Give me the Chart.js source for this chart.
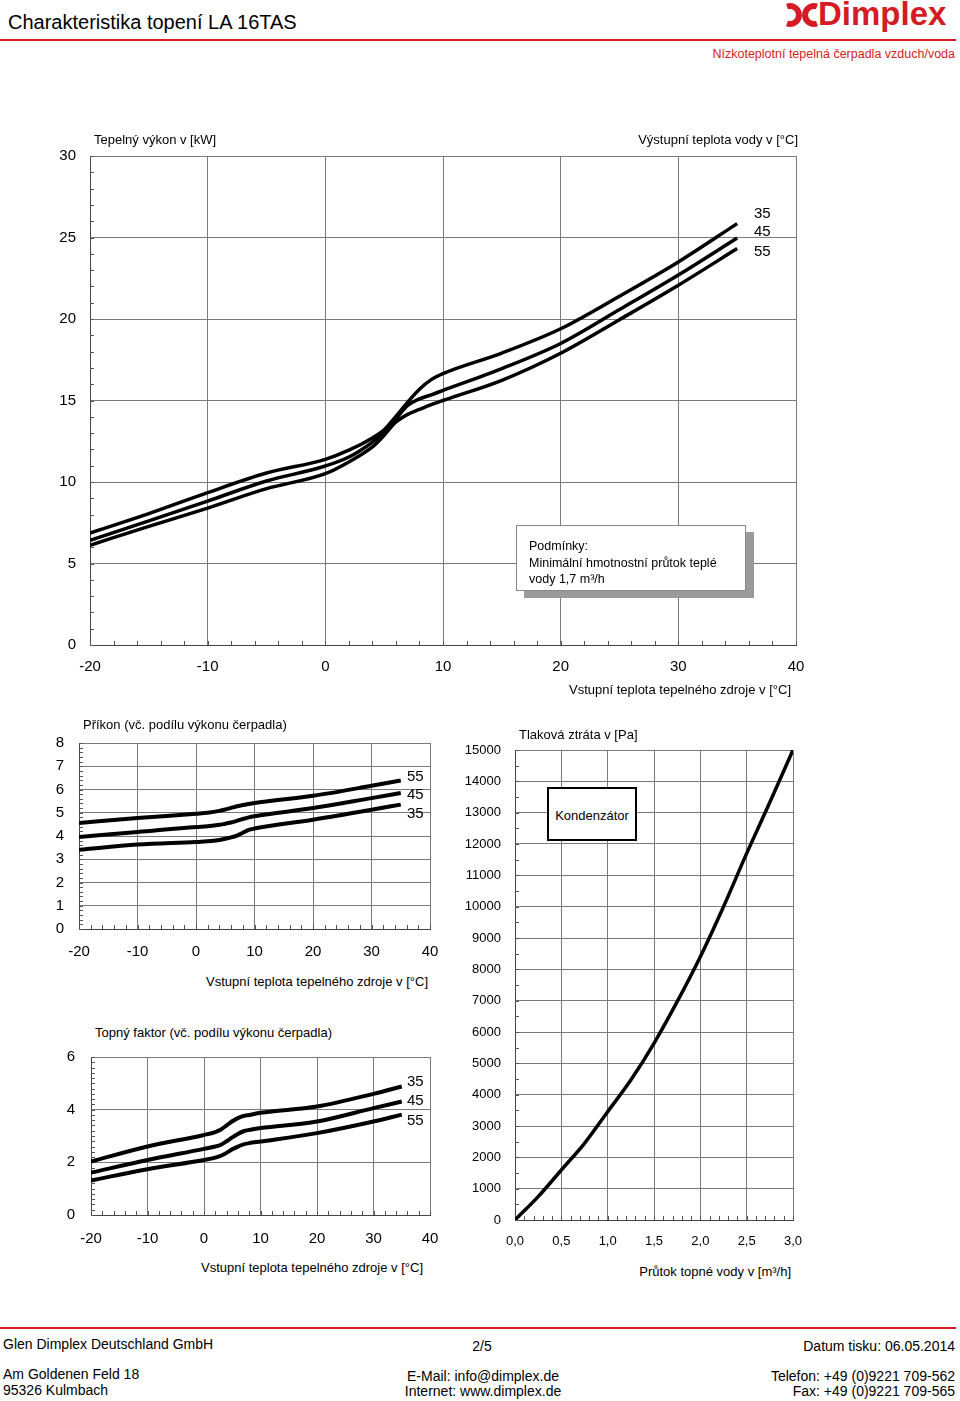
<!DOCTYPE html>
<html lang="cs">
<head>
<meta charset="UTF-8">
<title>Charakteristika topení LA 16TAS</title>
<style>
  body { margin: 0; background: #fff; font-family: "Liberation Sans", Arial, sans-serif; color: #000; }
  #page { position: relative; width: 960px; height: 1401px; overflow: hidden; background: #fff; }
  .t { position: absolute; white-space: nowrap; line-height: 1; }
  .f13 { font-size: 13px; }
  .f15 { font-size: 15px; }
  .f14 { font-size: 14px; }
  canvas { position: absolute; }
  .red { color: #d51b23; }
</style>
</head>
<body>
<div id="page">
  <!-- header -->
  <div class="t" style="left:8px; top:12px; font-size:20px;">Charakteristika topení LA 16TAS</div>
  <svg style="position:absolute; left:784px; top:2px;" width="36" height="26" viewBox="0 0 36 26">
    <path d="M3 4.5 A9 9 0 1 1 3 21.5" fill="none" stroke="#d51b23" stroke-width="6"/>
    <path d="M33 4.5 A9 9 0 1 0 33 21.5" fill="none" stroke="#d51b23" stroke-width="6"/>
  </svg>
  <div class="t red" style="left:818px; top:-3px; font-size:33px; font-weight:bold;">Dimplex</div>
  <div style="position:absolute; left:0; top:39px; width:956px; height:2px; background:#d51b23;"></div>
  <div class="t red" style="right:5px; top:48px; font-size:12.5px;">Nízkoteplotní tepelná čerpadla vzduch/voda</div>

  <!-- main chart texts -->
  <canvas id="heatChart"></canvas>
  <div class="t f13" style="left:94px; top:133px;">Tepelný výkon v [kW]</div>
  <div class="t f13" style="right:162px; top:133px;">Výstupní teplota vody v [°C]</div>
  <div class="t f15" style="left:754px; top:205px;">35</div>
  <div class="t f15" style="left:754px; top:223px;">45</div>
  <div class="t f15" style="left:754px; top:243px;">55</div>
  <div class="t f13" style="right:169px; top:683px;">Vstupní teplota tepelného zdroje v [°C]</div>
  <div style="position:absolute; left:516px; top:525px; width:228px; height:64px; background:#fff; border:1px solid #888; box-shadow:8px 7px 0 #9a9a9a;">
    <div class="t" style="left:12px; top:12px; font-size:12.5px; line-height:16.5px;">Podmínky:<br>Minimální hmotnostní průtok teplé<br>vody 1,7 m³/h</div>
  </div>

  <!-- power chart texts -->
  <canvas id="powerChart"></canvas>
  <div class="t f13" style="left:83px; top:718px;">Příkon (vč. podílu výkonu čerpadla)</div>
  <div class="t f15" style="left:407px; top:768px;">55</div>
  <div class="t f15" style="left:407px; top:786px;">45</div>
  <div class="t f15" style="left:407px; top:805px;">35</div>
  <div class="t f13" style="right:532px; top:975px;">Vstupní teplota tepelného zdroje v [°C]</div>

  <!-- COP chart texts -->
  <canvas id="copChart"></canvas>
  <div class="t f13" style="left:95px; top:1026px;">Topný faktor (vč. podílu výkonu čerpadla)</div>
  <div class="t f15" style="left:407px; top:1073px;">35</div>
  <div class="t f15" style="left:407px; top:1092px;">45</div>
  <div class="t f15" style="left:407px; top:1112px;">55</div>
  <div class="t f13" style="right:537px; top:1261px;">Vstupní teplota tepelného zdroje v [°C]</div>

  <!-- pressure chart texts -->
  <canvas id="pressureChart"></canvas>
  <div class="t f13" style="left:519px; top:728px;">Tlaková ztráta v [Pa]</div>
  <div style="position:absolute; left:547px; top:787px; width:86px; height:50px; background:#fff; border:2px solid #000;">
    <div class="t f13" style="left:0; width:86px; text-align:center; top:20px;">Kondenzátor</div>
  </div>
  <div class="t f13" style="right:169px; top:1265px;">Průtok topné vody v [m³/h]</div>

  <!-- footer -->
  <div style="position:absolute; left:0; top:1327px; width:956px; height:2px; background:#d51b23;"></div>
  <div class="t f14" style="left:3px; top:1337px;">Glen Dimplex Deutschland GmbH</div>
  <div class="t f14" style="left:432px; width:100px; text-align:center; top:1339px;">2/5</div>
  <div class="t f14" style="right:5px; top:1339px;">Datum tisku: 06.05.2014</div>
  <div class="t f14" style="left:3px; top:1367px;">Am Goldenen Feld 18</div>
  <div class="t f14" style="left:3px; top:1383px;">95326 Kulmbach</div>
  <div class="t f14" style="left:383px; width:200px; text-align:center; top:1369px;">E-Mail: info@dimplex.de</div>
  <div class="t f14" style="left:383px; width:200px; text-align:center; top:1384px;">Internet: www.dimplex.de</div>
  <div class="t f14" style="right:5px; top:1369px;">Telefon: +49 (0)9221 709-562</div>
  <div class="t f14" style="right:5px; top:1384px;">Fax: +49 (0)9221 709-565</div>
</div>

<script src="https://cdn.jsdelivr.net/npm/chart.js"></script>
<script>
// --- data read from the sheet ---
// heating output [kW] vs. source temperature [°C]
const heatX  = [-20, -15, -10, -5, 0, 2, 4, 5, 6, 7, 8, 9, 10, 15, 20, 25, 30, 35];
const heat35 = [6.87, 8.06, 9.35, 10.55, 11.39, 11.95, 12.7, 13.2, 14.03, 14.9, 15.69, 16.28, 16.65, 17.91, 19.4, 21.4, 23.5, 25.85];
const heat45 = [6.42, 7.61, 8.83, 10.06, 10.98, 11.53, 12.45, 13.07, 13.89, 14.7, 15.1, 15.35, 15.62, 16.96, 18.5, 20.58, 22.7, 24.97];
const heat55 = [6.12, 7.28, 8.4, 9.59, 10.51, 11.23, 12.15, 12.87, 13.68, 14.15, 14.45, 14.74, 15.0, 16.24, 17.9, 19.96, 22.07, 24.32];

// power input [kW]
const powX  = [-20, -10, 0, 2, 4, 5, 6, 7, 8, 9, 10, 20, 30, 35];
const pow55 = [4.56, 4.77, 4.96, 5.0, 5.08, 5.14, 5.21, 5.28, 5.33, 5.38, 5.42, 5.73, 6.16, 6.39];
const pow45 = [3.96, 4.17, 4.39, 4.42, 4.48, 4.53, 4.58, 4.65, 4.73, 4.8, 4.85, 5.2, 5.63, 5.85];
const pow35 = [3.41, 3.63, 3.74, 3.77, 3.83, 3.88, 3.94, 4.02, 4.14, 4.26, 4.32, 4.7, 5.13, 5.35];

// COP
const copX  = [-20, -10, 0, 2, 3, 4, 5, 6, 7, 8, 10, 20, 30, 35];
const cop35 = [2.03, 2.6, 3.04, 3.15, 3.25, 3.4, 3.56, 3.68, 3.76, 3.8, 3.88, 4.12, 4.6, 4.88];
const cop45 = [1.61, 2.09, 2.51, 2.6, 2.67, 2.8, 2.95, 3.08, 3.18, 3.23, 3.3, 3.55, 4.06, 4.31];
const cop55 = [1.31, 1.74, 2.09, 2.18, 2.25, 2.36, 2.5, 2.6, 2.68, 2.73, 2.79, 3.11, 3.55, 3.81];

// condenser pressure drop [Pa] vs. flow [m3/h]
const flowX    = [0, 0.25, 0.5, 0.75, 1.0, 1.25, 1.5, 1.75, 2.0, 2.25, 2.5, 2.75, 3.0];
const pressure = [0, 745, 1596, 2447, 3457, 4468, 5640, 6968, 8404, 10000, 11700, 13330, 15000];

function pts(xs, ys) {
    return xs.map(function(x, i) { return {x: x, y: ys[i]}; });
}

// small tick marks inside the plot along the bottom and left axes
const minorTicks = {
    id: 'minorTicks',
    beforeDatasetsDraw(chart, args, opts) {
        const ctx = chart.ctx, a = chart.chartArea, x = chart.scales.x, y = chart.scales.y;
        ctx.save();
        ctx.strokeStyle = '#555';
        ctx.lineWidth = 1;
        ctx.beginPath();
        const nx = Math.round((x.max - x.min) / opts.x);
        for (let i = 0; i <= nx; i++) {
            const px = Math.round(x.getPixelForValue(x.min + i * opts.x)) + 0.5;
            ctx.moveTo(px, a.bottom);
            ctx.lineTo(px, a.bottom - opts.len);
        }
        const ny = Math.round((y.max - y.min) / opts.y);
        for (let i = 0; i <= ny; i++) {
            const py = Math.round(y.getPixelForValue(y.min + i * opts.y)) + 0.5;
            ctx.moveTo(a.left, py);
            ctx.lineTo(a.left + opts.len, py);
        }
        ctx.stroke();
        ctx.restore();
    }
};

function makeChart(id, box, area, cfg) {
    const cv = document.getElementById(id);
    cv.width = box.w;
    cv.height = box.h;
    cv.style.left = box.x + 'px';
    cv.style.top = box.y + 'px';
    cv.style.width = box.w + 'px';
    cv.style.height = box.h + 'px';
    const xH = 30;
    const fmt = cfg.fmt || function(v) { return String(v); };

    return new Chart(cv.getContext('2d'), {
        type: 'line',
        data: {
            datasets: cfg.series.map(function(s) {
                return { label: s.label, data: s.data, borderColor: '#000', borderWidth: cfg.lw,
                         pointRadius: 0, cubicInterpolationMode: 'monotone', fill: false };
            })
        },
        options: {
            responsive: false,
            animation: false,
            devicePixelRatio: 1,
            layout: {
                padding: { left: 0, top: area.t - box.y, right: box.x + box.w - area.r, bottom: box.y + box.h - area.b - xH }
            },
            plugins: {
                legend: { display: false },
                tooltip: { enabled: false },
                minorTicks: cfg.minor
            },
            scales: {
                x: {
                    type: 'linear',
                    min: cfg.x[0], max: cfg.x[1],
                    ticks: { stepSize: cfg.x[2], padding: cfg.xPad, color: '#000', autoSkip: false, maxRotation: 0,
                             font: { family: 'Liberation Sans', size: cfg.fs }, callback: fmt },
                    grid: { color: '#7a7a7a', lineWidth: 1, drawTicks: false },
                    border: { color: '#444', width: 1 },
                    afterFit: function(s) { s.height = xH; s.paddingLeft = 0; s.paddingRight = 0; }
                },
                y: {
                    type: 'linear',
                    min: cfg.y[0], max: cfg.y[1],
                    ticks: { stepSize: cfg.y[2], padding: cfg.yPad, color: '#000', autoSkip: false, maxTicksLimit: 100,
                             font: { family: 'Liberation Sans', size: cfg.fs }, callback: function(v) { return String(v); } },
                    grid: { color: '#7a7a7a', lineWidth: 1, drawTicks: false },
                    border: { color: '#444', width: 1 },
                    afterFit: function(s) { s.width = area.l - box.x; s.paddingTop = 0; s.paddingBottom = 0; }
                }
            }
        },
        plugins: [minorTicks]
    });
}

makeChart('heatChart', {x: 0, y: 100, w: 960, h: 620}, {l: 90, t: 156, r: 796, b: 645}, {
    series: [
        {label: '35', data: pts(heatX, heat35)},
        {label: '45', data: pts(heatX, heat45)},
        {label: '55', data: pts(heatX, heat55)}
    ],
    x: [-20, 40, 10], y: [0, 30, 5], fs: 15, xPad: 13, yPad: 14, lw: 3.5,
    minor: {x: 2, y: 1, len: 4}
});

makeChart('powerChart', {x: 0, y: 728, w: 455, h: 245}, {l: 79, t: 743, r: 430, b: 929}, {
    series: [
        {label: '55', data: pts(powX, pow55)},
        {label: '45', data: pts(powX, pow45)},
        {label: '35', data: pts(powX, pow35)}
    ],
    x: [-20, 40, 10], y: [0, 8, 1], fs: 15, xPad: 14, yPad: 15, lw: 4,
    minor: {x: 2, y: 0.2, len: 4}
});

makeChart('copChart', {x: 0, y: 1042, w: 455, h: 218}, {l: 91, t: 1057, r: 430, b: 1215}, {
    series: [
        {label: '35', data: pts(copX, cop35)},
        {label: '45', data: pts(copX, cop45)},
        {label: '55', data: pts(copX, cop55)}
    ],
    x: [-20, 40, 10], y: [0, 6, 2], fs: 15, xPad: 15, yPad: 16, lw: 4,
    minor: {x: 2, y: 0.2, len: 4}
});

makeChart('pressureChart', {x: 455, y: 738, w: 360, h: 522}, {l: 515, t: 750, r: 793, b: 1220}, {
    series: [
        {label: 'Kondenzátor', data: pts(flowX, pressure)}
    ],
    x: [0, 3, 0.5], y: [0, 15000, 1000], fs: 13, xPad: 14, yPad: 14, lw: 3.5,
    minor: {x: 0.1, y: 500, len: 4},
    fmt: function(v) { return v.toFixed(1).replace('.', ','); }
});
</script>
</body>
</html>
